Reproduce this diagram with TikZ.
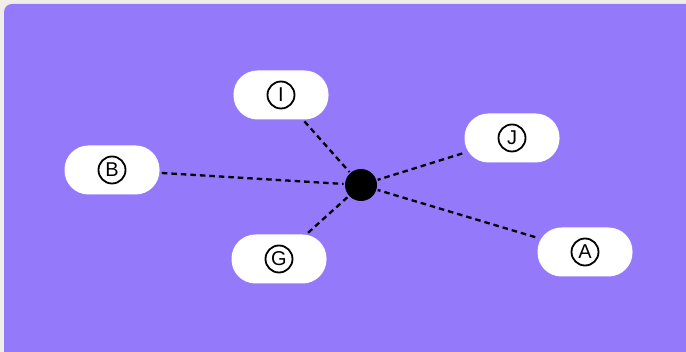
\documentclass[tikz,border=0pt]{standalone}
\usepackage{fontspec}
\setmainfont{Liberation Sans}
\usepackage{xcolor}
\usepackage{tikz}
\usetikzlibrary{calc}

\definecolor{paper}{HTML}{F1EEE8}
\definecolor{violet}{HTML}{9479FA}

\begin{document}
\begin{tikzpicture}[x=1pt, y=-1pt, thick,
		pill/.style = {fill=white, rounded corners=24pt, minimum width=95pt, minimum height=49pt, inner sep=0pt},
		letter/.style = {draw, circle, line width=1.8pt, minimum size=27pt, inner sep=0pt, font=\fontsize{20}{20}\selectfont},
		link/.style = {line width=2.3pt, dash pattern=on 5.5pt off 4pt}]
		\clip (0,0) rectangle (686,352);
		\fill[paper] (0,0) rectangle (686,352);
		\fill[violet, rounded corners=8pt] (4,4) rectangle (700,366);
		
		\node[circle, fill=black, minimum size=32pt, inner sep=0pt] (hub) at (361,185) {};
		\node[pill] (I) at (281,95) {}; 
		\node[pill] (J) at (512,138) {};
		\node[pill] (B) at (112,170) {}; 
		\node[pill] (G) at (279,259) {};
		\node[pill] (A) at (585,252) {}; 
		
		\foreach \n in {I,J,B,G,A}
			\node[letter] at (\n) {\n};
		
		\begin{scope}[shorten >=1pt, shorten <=2pt]
			\draw[link] (B) -- (hub);
			\draw[link] (I) -- (hub);
			\draw[link] (J) -- (hub);
			\draw[link] (G) -- (hub);
			\draw[link] (A) -- (hub);
		\end{scope}
	\end{tikzpicture}
\end{document}
